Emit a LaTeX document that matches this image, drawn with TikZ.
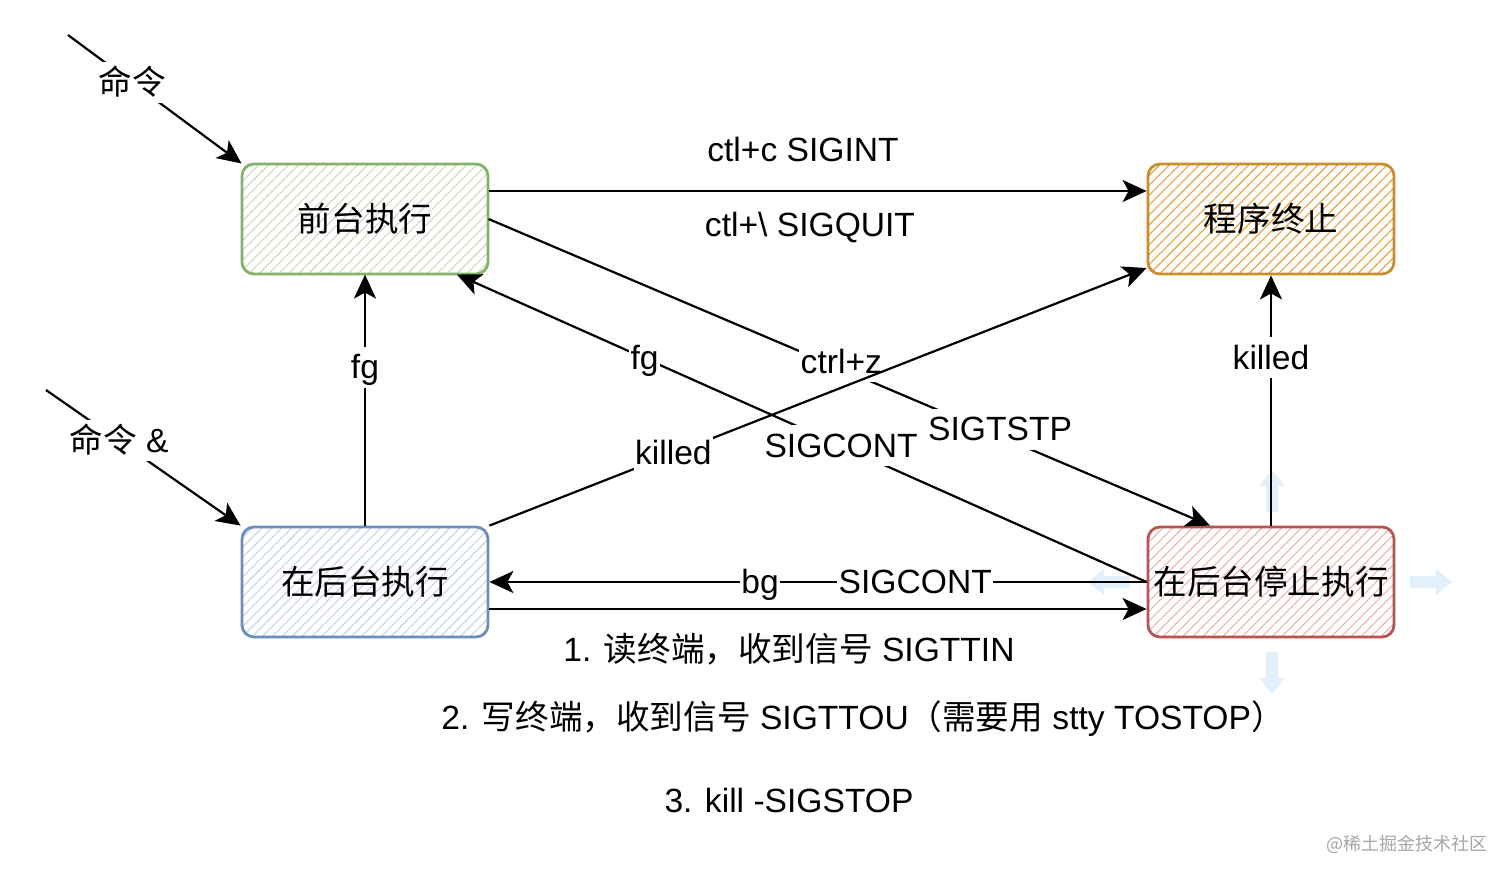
\documentclass[tikz,border=0pt]{standalone}
\usepackage{fontspec}
\setmainfont{Liberation Sans}
\newfontfamily\cjk{Noto Sans CJK SC}
\usetikzlibrary{patterns.meta,arrows.meta}
\definecolor{gstroke}{HTML}{82B366}
\definecolor{ghatch}{HTML}{C9D9C3}
\definecolor{ostroke}{HTML}{C88D2C}
\definecolor{ohatch}{HTML}{E6A43C}
\definecolor{bstroke}{HTML}{6C8EBF}
\definecolor{bhatch}{HTML}{C6D3E6}
\definecolor{rstroke}{HTML}{B85450}
\definecolor{rhatch}{HTML}{EDB4B2}
\definecolor{hover}{HTML}{E1F0FA}
\begin{document}
\begin{tikzpicture}[x=1pt,y=-1pt,
  box/.style={rounded corners=12pt, minimum width=246pt, minimum height=110pt,
    line width=2.8pt, inner sep=0pt, font=\fontsize{33.6pt}{40pt}\selectfont\cjk},
  hatch/.style={pattern={Lines[angle=45,distance=7pt,line width=1.1pt]}, pattern color=#1},
  conn/.style={line width=2.2pt, -{Stealth[length=24pt,width=22pt,inset=6pt]}},
  lbl/.style={fill=white, inner xsep=1.5pt, inner ysep=5pt, text height=27pt, text depth=4pt,
    font=\fontsize{33.6pt}{40pt}\selectfont},
  txt/.style={inner sep=0pt, font=\fontsize{33.6pt}{40pt}\selectfont},
]
\useasboundingbox (0,0) rectangle (1512,879);

% faint hover arrows around the stopped box
\fill[hover] (1266,512) -- (1266,486) -- (1259,486) -- (1272,470) -- (1285,486) -- (1278,486) -- (1278,512) -- cycle;
\fill[hover] (1266,652) -- (1266,678) -- (1259,678) -- (1272,694) -- (1285,678) -- (1278,678) -- (1278,652) -- cycle;
\fill[hover] (1410,576) -- (1436,576) -- (1436,569) -- (1452,582) -- (1436,595) -- (1436,588) -- (1410,588) -- cycle;
\fill[hover] (1130,576) -- (1104,576) -- (1104,569) -- (1088,582) -- (1104,595) -- (1104,588) -- (1130,588) -- cycle;

% boxes
\node[box, draw=gstroke, hatch=ghatch] (fg) at (365,219) {前台执行};
\node[box, draw=ostroke, hatch=ohatch] (term) at (1271,219) {程序终止};
\node[box, draw=bstroke, hatch=bhatch] (bg) at (365,582) {在后台执行};
\node[box, draw=rstroke, hatch=rhatch] (st) at (1271,582) {在后台停止执行};

% entry arrows
\coordinate (c1) at (68,35);
\coordinate (c2) at (46,390);
\draw[conn] (c1) -- node[lbl, pos=0.37, font=\fontsize{33.6pt}{40pt}\selectfont\cjk] {命令} (fg.north west);
\draw[conn] (c2) -- node[lbl, pos=0.375] {{\cjk 命令} \&} (bg.north west);

% foreground -> terminated
\draw[conn] ([yshift=28pt]fg.east) -- ([yshift=28pt]term.west);
\node[txt] (l1) at (803,149) {ctl+c SIGINT};
\node[txt] (l2) at (810,227) {ctl+\textbackslash\ SIGQUIT};

% foreground -> stopped (ctrl+z)
\draw[conn] (fg.east) -- node[lbl, pos=0.489, yshift=7pt] {ctrl+z}
  node[lbl, pos=0.709, yshift=7pt] {SIGTSTP} ([xshift=-61pt]st.north);

% stopped -> foreground (fg SIGCONT)
\draw[conn] (st.west) -- node[lbl, pos=0.443] {SIGCONT}
  node[lbl, pos=0.728] {fg} ([xshift=92pt]fg.south);

% background -> terminated (killed)
\draw[conn] (bg.north east) -- node[lbl, pos=0.28] {killed} ([yshift=-49pt]term.west);

% background -> foreground
\draw[conn] (bg.north) -- node[lbl, pos=0.63] {fg} (fg.south);

% stopped -> terminated
\draw[conn] (st.north) -- node[lbl, pos=0.67] {killed} (term.south);

% stopped -> background
\draw[conn] (st.west) -- node[lbl, pos=0.352] {SIGCONT} node[lbl, pos=0.588] {bg} (bg.east);

% background -> stopped
\draw[conn] ([yshift=-27pt]bg.east) -- ([yshift=-27pt]st.west);
\node[txt] (t1) at (789,649) {1. {\cjk 读终端，收到信号} SIGTTIN};
\node[txt] (t2) at (863,719) {2. {\cjk 写终端，收到信号} SIGTTOU{\cjk （需要用} stty TOSTOP{\cjk ）}};
\node[txt] (t3) at (789,800) {3. kill -SIGSTOP};

% watermark
\node[inner sep=0pt, text=black!35, font=\fontsize{18pt}{20pt}\selectfont\cjk] (wm) at (1407,844) {@稀土掘金技术社区};
\end{tikzpicture}
\end{document}
